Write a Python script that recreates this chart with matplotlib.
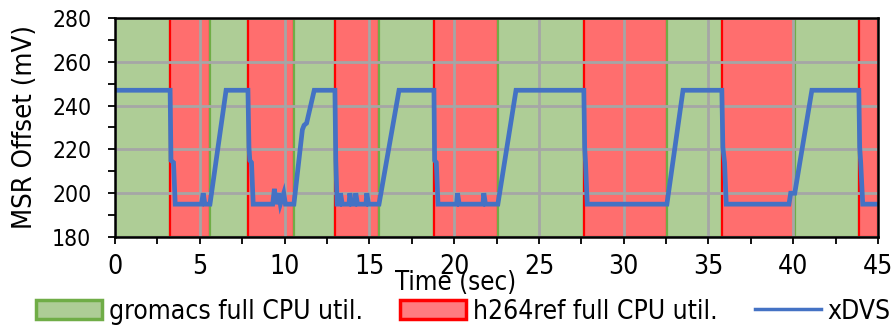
"""
Plot the MSR voltage offset chosen by xDVS while the CPU alternates
between gromacs and h264ref phases.
"""

import matplotlib
matplotlib.use('Agg')
from matplotlib import pyplot as plt
from matplotlib.patches import Patch
from matplotlib.lines import Line2D
from matplotlib.ticker import MultipleLocator


# Phase boundaries (sec)
gromacs_phases = [(0.0, 3.25), (5.6, 7.84), (10.55, 12.97), (15.57, 18.81),
                  (22.58, 27.65), (32.55, 35.79), (40.09, 43.87)]
h264ref_phases = [(3.25, 5.6), (7.84, 10.55), (12.97, 15.57), (18.81, 22.58),
                  (27.65, 32.55), (35.79, 40.09), (43.87, 45.0)]

# xDVS offset trace (sec, mV)
xdvs_time = [0, 3.25, 3.3, 3.45, 3.55, 5.1, 5.2, 5.3, 5.6, 6.55,
             7.84, 7.9, 7.95, 8.05, 8.15, 9.3, 9.4, 9.5, 9.65, 9.75, 9.95, 10.05,
             10.55, 11.05, 11.15, 11.3, 11.75,
             12.97, 13.02, 13.1, 13.25, 13.3, 13.4, 13.8, 13.85, 13.95, 14.15, 14.2,
             14.3, 14.8, 14.85, 14.95, 15.57, 16.75,
             18.81, 18.85, 18.95, 19.05, 20.15, 20.2, 20.3, 21.7, 21.75, 21.85,
             22.58, 23.65,
             27.65, 27.7, 27.75, 27.85, 32.55, 33.5,
             35.79, 35.85, 35.95, 36.05, 39.75, 39.85, 40.09, 41.1,
             43.87, 43.92, 43.98, 44.1, 45.0]
xdvs_mv = [247, 247, 215, 214, 195, 195, 200, 195, 195, 247,
           247, 221, 215, 214, 195, 195, 202, 195, 200, 195, 200, 195,
           195, 229, 231, 232, 247,
           247, 215, 195, 195, 200, 195, 195, 200, 195, 195, 200,
           195, 195, 200, 195, 195, 247,
           247, 215, 214, 195, 195, 200, 195, 195, 200, 195,
           195, 247,
           247, 221, 214, 195, 195, 247,
           247, 221, 214, 195, 195, 200, 200, 247,
           247, 221, 214, 195, 195]

GREEN_FILL = '#AECD96'
GREEN_EDGE = '#70AD47'
RED_FILL = '#FF6E6E'
RED_EDGE = '#FF0000'
BLUE = '#4472C4'

plt.rcParams['font.family'] = ['DejaVu Sans']
plt.rcParams['font.stretch'] = 'condensed'
plt.rcParams['font.size'] = 19

fig = plt.figure(figsize=(8.93, 3.3), dpi=100)
ax = fig.add_axes([0.1288, 0.2818, 0.8544, 0.6637])

# draw phases in time order so each phase's start line sits on top
phases = [(p, 'g') for p in gromacs_phases] + [(p, 'r') for p in h264ref_phases]
phases.sort(key=lambda item: item[0][0])
for (start, end), kind in phases:
    if kind == 'g':
        ax.axvspan(start, end, facecolor=GREEN_FILL, edgecolor=GREEN_EDGE, lw=1.6)
    else:
        ax.axvspan(start, end, facecolor=RED_FILL, edgecolor=RED_EDGE, lw=1.6)

ax.plot(xdvs_time, xdvs_mv, color=BLUE, lw=3.4, solid_joinstyle='miter', zorder=3)

ax.set_xlim(0, 45)
ax.set_ylim(180, 280)
ax.xaxis.set_major_locator(MultipleLocator(5))
ax.xaxis.set_minor_locator(MultipleLocator(2.5))
ax.yaxis.set_major_locator(MultipleLocator(20))
ax.yaxis.set_minor_locator(MultipleLocator(10))
ax.grid(which='major', color='#A6A6A6', lw=2.0)
ax.tick_params(which='both', direction='out', length=5, width=1.3, color='black')
ax.tick_params(axis='x', pad=7, labelsize=19)
ax.tick_params(axis='y', pad=12, labelsize=16.5)
for spine in ax.spines.values():
    spine.set_linewidth(1.8)
    spine.set_zorder(4)

ax.set_ylabel('MSR Offset (mV)', fontsize=19.7)
ax.yaxis.set_label_coords(-0.101, 0.5)
ax.set_xlabel('Time (sec)', fontsize=18.5)
ax.xaxis.set_label_coords(0.446, -0.151)

handles = [
    Patch(facecolor=GREEN_FILL, edgecolor=GREEN_EDGE, lw=2.5),
    Patch(facecolor='#FF7C80', edgecolor=RED_EDGE, lw=2.5),
    Line2D([0], [0], color=BLUE, lw=2.5),
]
labels = ['gromacs full CPU util.', 'h264ref full CPU util.', 'xDVS']
fig.legend(handles, labels, loc='center', bbox_to_anchor=(0.519, 0.055), ncol=3,
           frameon=False, handlelength=2.5, handleheight=0.75, handletextpad=0.27,
           columnspacing=1.4, borderpad=0, fontsize=19)

fig.savefig('out.png', dpi=100)
